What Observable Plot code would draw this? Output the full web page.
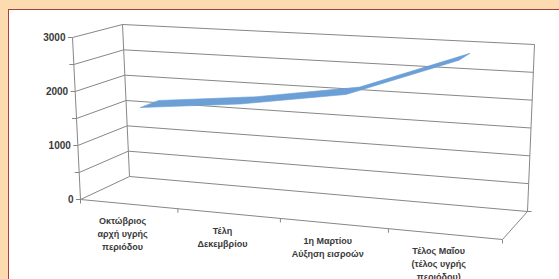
<!DOCTYPE html>
<html>
<head>
<meta charset="utf-8">
<script src="https://cdn.jsdelivr.net/npm/d3@7"></script>
<script src="https://cdn.jsdelivr.net/npm/@observablehq/plot@0.6"></script>
<style>
  html, body { margin: 0; padding: 0; }
  body { width: 559px; height: 279px; background: #fddbb0; position: relative; overflow: hidden; }
  #panel { position: absolute; left: 8px; top: 9px; width: 620px; height: 320px; background: #ffffff; border: 1.5px solid #a8403c; box-sizing: border-box; }
  #chart { position: absolute; left: 0; top: 0; }
</style>
</head>
<body>
<div id="panel"></div>
<div id="chart"></div>
<script>
// ---- data ----
const categories = [
  "Οκτώβριος\nαρχή υγρής\nπεριόδου",
  "Τέλη\nΔεκεμβρίου",
  "1η Μαρτίου\nΑύξηση εισροών",
  "Τέλος Μαΐου\n(τέλος υγρής\nπεριόδου)"
];
const values = [1660, 1855, 2155, 2880];
const yTickLabels = [0, 1000, 2000, 3000];
const yGridLevels = [0, 500, 1000, 1500, 2000, 2500, 3000];
const yMax = 3000;

// ---- 3D projection (layout) ----
const F = {bl: [80, 199], br: [502, 239], tl: [72, 37], tr: [509.5, 62]};   // front plane
const B = {bl: [129, 176], br: [527, 211], tl: [122, 24], tr: [534, 44]};   // back wall
const persp = 0.9;
const ff = u => u * persp / (1 - u * (1 - persp));
const lerp = (a, b, t) => [a[0] + (b[0] - a[0]) * t, a[1] + (b[1] - a[1]) * t];
function plane(Q, u, v) {
  const t = ff(u);
  return lerp(lerp(Q.bl, Q.br, t), lerp(Q.tl, Q.tr, t), v / yMax);
}
function P(u, v, w) { return lerp(plane(F, u, v), plane(B, u, v), w); }
const n = categories.length;
const uc = i => (i + 0.5) / n;
const wFront = 0.33, wBack = 0.72;

const ribbonFront = values.map((v, i) => P(uc(i), v, wFront));
const ribbonBack = values.map((v, i) => P(uc(i), v, wBack)).reverse();
const ribbon = [...ribbonFront, ...ribbonBack];

const boundaries = d3.range(0, n + 1).map(k => k / n);

const gridColor = "#878787";
const textColor = "#3a3a3a";

const chart = Plot.plot({
  width: 559,
  height: 279,
  margin: 0,
  x: {type: "identity", axis: null},
  y: {type: "identity", axis: null},
  style: {background: "transparent", fontFamily: "'Liberation Sans', Arial, sans-serif", overflow: "visible"},
  marks: [
    // back wall horizontal gridlines
    Plot.link(yGridLevels, {
      x1: v => P(0, v, 1)[0], y1: v => P(0, v, 1)[1],
      x2: v => P(1, v, 1)[0], y2: v => P(1, v, 1)[1],
      stroke: gridColor, strokeWidth: 1
    }),
    // back wall vertical edges
    Plot.link([0, 1], {
      x1: u => P(u, 0, 1)[0], y1: u => P(u, 0, 1)[1],
      x2: u => P(u, yMax, 1)[0], y2: u => P(u, yMax, 1)[1],
      stroke: gridColor, strokeWidth: 1
    }),
    // left side wall gridlines
    Plot.link(yGridLevels, {
      x1: v => P(0, v, 0)[0], y1: v => P(0, v, 0)[1],
      x2: v => P(0, v, 1)[0], y2: v => P(0, v, 1)[1],
      stroke: gridColor, strokeWidth: 1
    }),
    // value axis (front left edge)
    Plot.link([0], {
      x1: () => P(0, 0, 0)[0], y1: () => P(0, 0, 0)[1],
      x2: () => P(0, yMax, 0)[0], y2: () => P(0, yMax, 0)[1],
      stroke: gridColor, strokeWidth: 1
    }),
    // value ticks
    Plot.link(yGridLevels, {
      x1: v => P(0, v, 0)[0], y1: v => P(0, v, 0)[1],
      x2: v => P(0, v, 0)[0] - 4.5, y2: v => P(0, v, 0)[1],
      stroke: gridColor, strokeWidth: 1
    }),
    // floor front edge
    Plot.link([0], {
      x1: () => P(0, 0, 0)[0], y1: () => P(0, 0, 0)[1],
      x2: () => P(1, 0, 0)[0], y2: () => P(1, 0, 0)[1],
      stroke: gridColor, strokeWidth: 1
    }),
    // floor right edge
    Plot.link([0], {
      x1: () => P(1, 0, 0)[0], y1: () => P(1, 0, 0)[1],
      x2: () => P(1, 0, 1)[0], y2: () => P(1, 0, 1)[1],
      stroke: gridColor, strokeWidth: 1
    }),
    // depth axis tick at back-right
    Plot.link([0], {
      x1: () => P(1, 0, 1)[0], y1: () => P(1, 0, 1)[1],
      x2: () => P(1, 0, 1)[0] + 4, y2: () => P(1, 0, 1)[1],
      stroke: gridColor, strokeWidth: 1
    }),
    // category ticks
    Plot.link(boundaries, {
      x1: u => P(u, 0, 0)[0], y1: u => P(u, 0, 0)[1],
      x2: u => P(u, 0, 0)[0], y2: u => P(u, 0, 0)[1] + 4,
      stroke: gridColor, strokeWidth: 1
    }),
    // 3D ribbon line
    Plot.line(ribbon, {
      x: d => d[0], y: d => d[1],
      fill: "#6c9fd6", stroke: "#6c9fd6", strokeWidth: 0.6,
      curve: "linear-closed"
    }),
    // value tick labels
    Plot.text(yTickLabels, {
      x: v => P(0, v, 0)[0], y: v => P(0, v, 0)[1],
      text: v => String(v), textAnchor: "end", dx: -7,
      fontSize: 10, fontWeight: "bold", fill: textColor
    }),
    // category labels
    Plot.text(categories, {
      x: (d, i) => P(uc(i), 0, 0)[0], y: (d, i) => P(uc(i), 0, 0)[1],
      text: d => d, lineAnchor: "top", dx: -6, dy: 11,
      fontSize: 9, fontWeight: "bold", fill: textColor, lineHeight: 1.45
    })
  ]
});
document.getElementById("chart").appendChild(chart);
</script>
</body>
</html>
